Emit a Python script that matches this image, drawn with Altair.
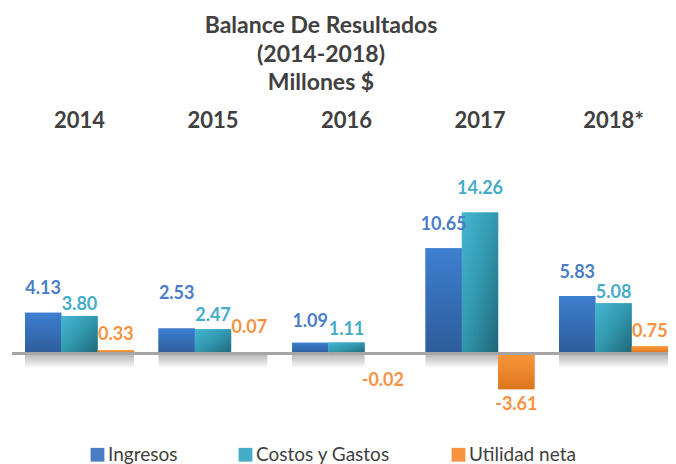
import altair as alt
import pandas as pd

years = ["2014", "2015", "2016", "2017", "2018*"]
series = ["Ingresos", "Costos y Gastos", "Utilidad neta"]
ingresos = [4.13, 2.53, 1.09, 10.65, 5.83]
costos = [3.80, 2.47, 1.11, 14.26, 5.08]
utilidad = [0.33, 0.07, -0.02, -3.61, 0.75]

# label nudges in px (style), following the reference's hand-placed labels
nudge_ing = [-24, -35, -21, -23, -23]
nudge_cos = [-11, -13, -13, -24, -10]
nudge_uti = [-15, -25, 27, 16, -14]

rows = []
for i, y in enumerate(years):
    for s, vals, nd in ((series[0], ingresos, nudge_ing), (series[1], costos, nudge_cos), (series[2], utilidad, nudge_uti)):
        rows.append({"year": y, "serie": s, "value": vals[i], "nudge": nd[i],
                     "label": f"{vals[i]:.2f}"})
df = pd.DataFrame(rows)

FONT = "Lato"
colors = ["#4A7DC6", "#45ADC8", "#F7923F"]
Y_DOMAIN = [-5, 22]
H = 267

x = alt.X("year:N", sort=years,
          scale=alt.Scale(paddingInner=0.184, paddingOuter=0.0487, align=1),
          axis=alt.Axis(orient="top", title=None, labelAngle=0, ticks=False, domain=False,
                        labelFont=FONT, labelFontSize=22, labelFontWeight="bold",
                        labelColor="#404040", labelPadding=4))
xo = alt.XOffset("serie:N", sort=series, scale=alt.Scale(paddingInner=0, paddingOuter=0))
yscale = alt.Scale(domain=Y_DOMAIN, nice=False, zero=False)

base = alt.Chart(df).encode(x=x, xOffset=xo)

bars = base.mark_bar().encode(
    y=alt.Y("value:Q", scale=yscale, axis=None),
    y2=alt.datum(0),
    color=alt.Color("serie:N", sort=series, scale=alt.Scale(domain=series, range=colors),
                    legend=alt.Legend(orient="none", direction="horizontal", title=None,
                                      legendX=76, legendY=309, padding=0,
                                      symbolType="square", symbolSize=190, symbolStrokeWidth=0,
                                      labelFont=FONT, labelFontSize=19, labelColor="#404040",
                                      labelOffset=1, columnPadding=58)),
)

def grad(stops, x2=0, y2=1):
    return {"gradient": "linear", "x1": 0, "y1": 0, "x2": x2, "y2": y2,
            "stops": [{"offset": o, "color": c} for o, c in stops]}

g_ing = grad([(0, "#3E7FD0"), (1, "#2D5C9A")])
g_cos = grad([(0, "#45B7D3"), (0.5, "#3297AE"), (1, "#1F6676")], x2=1, y2=1)
g_uti = grad([(0, "#F9973A"), (1, "#DD761E")])
g_shadow = grad([(0, "rgba(0,0,0,0.30)"), (1, "rgba(0,0,0,0)")])

over = []
for s, g in zip(series, (g_ing, g_cos, g_uti)):
    over.append(base.transform_filter(alt.datum.serie == s).mark_bar(fill=g).encode(
        y=alt.Y("value:Q", scale=yscale), y2=alt.datum(0)))

shadow = base.transform_filter(alt.datum.value > 0).mark_bar(fill=g_shadow).encode(
    y=alt.datum(0), y2=alt.datum(-1.5))

rule = alt.Chart(df).mark_rule(color="#A6A6A6", strokeWidth=2).encode(
    y=alt.datum(0))

px_unit = (Y_DOMAIN[1] - Y_DOMAIN[0]) / H
labels = base.transform_calculate(
    ly=f"datum.value - datum.nudge * {px_unit}"
).mark_text(font=FONT, fontSize=18, fontWeight="bold", baseline="middle").encode(
    y=alt.Y("ly:Q", scale=yscale),
    text="label:N",
    color=alt.Color("serie:N", sort=series, legend=None),
)

chart = alt.layer(bars, shadow, *over, rule, labels).properties(
    width=656, height=H,
    padding={"left": 4, "top": 128, "right": 0, "bottom": 61},
    autosize=alt.AutoSizeParams(type="none"),
    title=alt.TitleParams(text=["Balance De Resultados", "(2014-2018)", "Millones $"],
                          font=FONT, fontSize=23, fontWeight="bold", color="#404040",
                          anchor="middle", dx=-19, lineHeight=28.5, offset=14),
).configure_view(stroke=None)

chart.save("out.html", embed_options={"renderer": "svg", "actions": False})
